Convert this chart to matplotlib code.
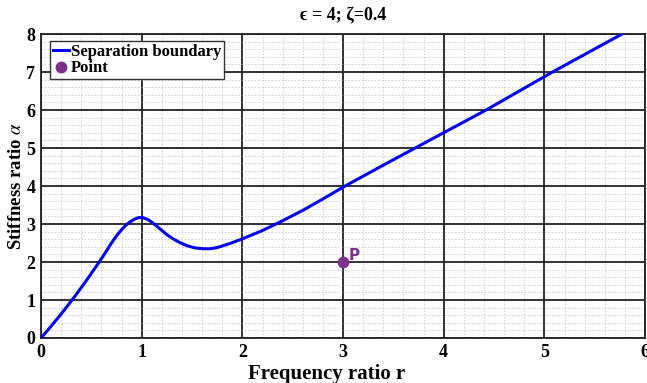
import matplotlib
matplotlib.use("Agg")
import matplotlib.pyplot as plt
from matplotlib.ticker import MultipleLocator

# Data
freq_ratio = [0, 0.1, 0.2, 0.32, 0.45, 0.57, 0.65, 0.7, 0.75, 0.8, 0.84, 0.88, 0.93, 0.97,
              1.01, 1.06, 1.1, 1.17, 1.25, 1.3, 1.38, 1.45, 1.53, 1.61, 1.68, 1.75, 1.88,
              2.0, 2.1, 2.2, 2.38, 2.6, 2.8, 3.02, 3.4, 3.8, 4.42, 5.08, 5.77]
stiffness = [0, 0.31, 0.63, 1.04, 1.51, 1.97, 2.29, 2.5, 2.69, 2.85, 2.96, 3.05, 3.13, 3.17,
             3.17, 3.12, 3.05, 2.9, 2.72, 2.63, 2.51, 2.43, 2.37, 2.35, 2.35, 2.38, 2.49,
             2.61, 2.72, 2.83, 3.06, 3.36, 3.66, 4.0, 4.55, 5.12, 6.0, 7.0, 8.0]
point_r = [3.0]
point_a = [2.0]
point_label = "P"
x_ticks = [0, 1, 2, 3, 4, 5, 6]
y_ticks = [0, 1, 2, 3, 4, 5, 6, 7, 8]

plt.rcParams['font.family'] = ['Liberation Serif', 'DejaVu Serif']
plt.rcParams['mathtext.fontset'] = 'stix'

fig = plt.figure(figsize=(6.47, 3.83), dpi=100)
ax = fig.add_axes([0.0634, 0.1175, 0.9336, 0.7935])

ax.plot(freq_ratio, stiffness, color=(0, 0, 1), lw=2.2, label="Separation boundary",
        zorder=3, solid_joinstyle='round')
ax.plot(point_r, point_a, 'o', color='#7E2F8E', ms=7.5, label="Point", zorder=4)
ax.text(point_r[0] + 0.06, point_a[0] + 0.05, point_label, color='#7E2F8E',
        fontsize=11, fontweight='bold', family='DejaVu Sans', zorder=5)

ax.set_xlim(0, 6)
ax.set_ylim(0, 8)
ax.set_xticks(x_ticks)
ax.set_yticks(y_ticks)
ax.xaxis.set_minor_locator(MultipleLocator(0.2))
ax.yaxis.set_minor_locator(MultipleLocator(0.2))
ax.grid(which='major', color='#222222', lw=1.3)
ax.grid(which='minor', color='#aaaaaa', lw=0.6, ls=(0, (2, 2)), alpha=0.6)
ax.set_axisbelow(True)
ax.tick_params(which='both', direction='in', length=0)
ax.tick_params(labelsize=13, pad=4)
for lab in ax.get_xticklabels() + ax.get_yticklabels():
    lab.set_fontweight('bold')
for s in ax.spines.values():
    s.set_color('#222222')
    s.set_linewidth(1.3)

ax.set_xlabel("Frequency ratio r", fontsize=15, fontweight='bold', labelpad=0)
ax.xaxis.set_label_coords((327 - 41) / 604, -0.085)
ax.set_ylabel(r"Stiffness ratio $\alpha$", fontsize=13.5, fontweight='bold')
ax.yaxis.set_label_coords(-0.026, 0.5)
ax.set_title("\u03f5 = 4; \u03b6=0.4", fontsize=13, fontweight='bold', pad=10,
             family=['Liberation Serif', 'DejaVu Serif'])

leg = ax.legend(loc='upper left', bbox_to_anchor=(9 / 604, 1 - 7 / 304),
                prop={'weight': 'bold', 'size': 12}, frameon=True, fancybox=False,
                handlelength=1.0, handletextpad=0.1, borderpad=0.15, labelspacing=0.05,
                borderaxespad=0.0)
leg.get_frame().set_edgecolor('#333333')
leg.get_frame().set_linewidth(1.0)
leg.get_frame().set_alpha(1)

fig.savefig("out.png", dpi=100)
